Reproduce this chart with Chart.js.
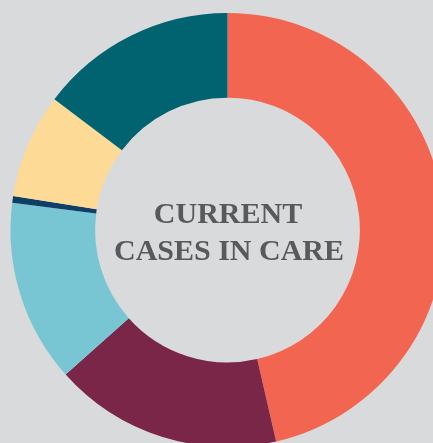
<!DOCTYPE html>
<html>
<head>
<meta charset="utf-8">
<script src="https://cdn.jsdelivr.net/npm/chart.js@4"></script>
<style>
    html, body {
        margin: 0;
        padding: 0;
        width: 433px;
        height: 443px;
        overflow: hidden;
        background: #d9dadb;
    }
    canvas {
        display: block;
    }
</style>
</head>
<body>
<canvas id="cases" width="455" height="460"></canvas>
<script>
// share of current cases, clockwise from 12 o'clock
const segments = ["Segment 1", "Segment 2", "Segment 3", "Segment 4", "Segment 5", "Segment 6"];
const shares = [46.4, 17.0, 13.6, 0.5, 7.8, 14.7];
const colours = ["#f26651", "#7a2649", "#78c5d4", "#0e3f66", "#fdda95", "#00636f"];
const centerLines = ["CURRENT", "CASES IN CARE"];

const centerText = {
    id: "centerText",
    afterDraw: function (chart) {
        const ctx = chart.ctx;
        ctx.save();
        ctx.fillStyle = "#58595b";
        ctx.font = "bold 30px 'Liberation Serif', serif";
        ctx.textAlign = "center";
        ctx.textBaseline = "alphabetic";
        ctx.fillText(centerLines[0], 228, 223);
        ctx.fillText(centerLines[1], 229, 260);
        ctx.restore();
    },
};

new Chart(document.getElementById("cases"), {
    type: "doughnut",
    data: {
        labels: segments,
        datasets: [
            {
                data: shares,
                backgroundColor: colours,
                borderWidth: 0,
                radius: 217,
            },
        ],
    },
    options: {
        responsive: false,
        animation: false,
        devicePixelRatio: 1,
        cutout: "61%",
        layout: { padding: 0 },
        plugins: {
            legend: { display: false },
            tooltip: { enabled: false },
        },
    },
    plugins: [centerText],
});
</script>
</body>
</html>
